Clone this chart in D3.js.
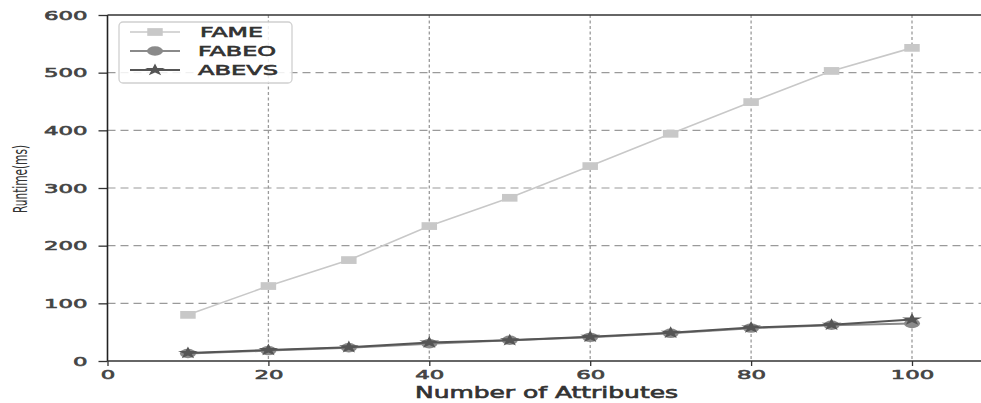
<!DOCTYPE html>
<html>
<head>
<meta charset="utf-8">
<script src="https://cdn.jsdelivr.net/npm/d3@7"></script>
<style>
  body { margin: 0; background: #fff; }
  text { font-family: "DejaVu Sans", sans-serif; }
</style>
</head>
<body>
<svg id="chart" width="981" height="403"></svg>
<script>
const attributes = [10, 20, 30, 40, 50, 60, 70, 80, 90, 100];
const fame  = [80, 130, 175, 234, 283, 338, 394, 449, 503, 543];
const fabeo = [13, 18, 23, 30, 36, 41, 48, 57, 62, 65];
const abevs = [14, 19, 24, 32, 36, 42, 49, 58, 63, 72];
const xTicks = [0, 20, 40, 60, 80, 100];
const yTicks = [0, 100, 200, 300, 400, 500, 600];

// the original picture is stretched horizontally, so markers and text are too
const series = [
  { name: "FAME",  values: fame,  color: "#c8c8c8", symbol: d3.symbolSquare, size: 60, sx: 2.0, sy: 1.0, lw: 1.6 },
  { name: "FABEO", values: fabeo, color: "#8a8a8a", symbol: d3.symbolCircle, size: 70, sx: 1.7, sy: 1.0, lw: 2 },
  { name: "ABEVS", values: abevs, color: "#555555", symbol: d3.symbolStar,   size: 48, sx: 1.6, sy: 1.0, lw: 2 }
];

const svg = d3.select("#chart");
const W = 981;

const x = d3.scaleLinear().domain([0, 100]).range([107.5, 912]);
const y = d3.scaleLinear().domain([0, 600]).range([361, 15]);

// grid
const grid = svg.append("g");
grid.selectAll("line.v").data(xTicks.slice(1)).enter().append("line")
  .attr("x1", d => x(d)).attr("x2", d => x(d))
  .attr("y1", y(600)).attr("y2", y(0))
  .attr("stroke", "#9a9a9a").attr("stroke-width", 1.3).attr("stroke-dasharray", "3,2.5");
grid.selectAll("line.h").data(yTicks.slice(1, -1)).enter().append("line")
  .attr("x1", x(0)).attr("x2", W)
  .attr("y1", d => y(d)).attr("y2", d => y(d))
  .attr("stroke", "#9a9a9a").attr("stroke-width", 1.2).attr("stroke-dasharray", "8,5");

// axes
const xAxis = svg.append("g")
  .attr("transform", "translate(0," + y(0) + ")")
  .call(d3.axisBottom(x).tickValues(xTicks).tickSize(5).tickPadding(4));
const yAxis = svg.append("g")
  .attr("transform", "translate(" + x(0) + ",0)")
  .call(d3.axisLeft(y).tickValues(yTicks).tickSize(9).tickPadding(11));
[xAxis, yAxis].forEach(a => {
  a.select(".domain").remove();
  a.selectAll("line").attr("stroke", "#333").attr("stroke-width", 1.3);
  a.selectAll("text").attr("fill", "#444").style("font-size", "12.5px")
    .attr("stroke", "#444").attr("stroke-width", 0.6)
    .attr("textLength", d => String(d).length * 14.5)
    .attr("lengthAdjust", "spacingAndGlyphs");
});

// frame lines
svg.append("line").attr("x1", x(0)).attr("x2", x(0)).attr("y1", y(600)).attr("y2", y(0))
  .attr("stroke", "#222").attr("stroke-width", 1.6);
svg.append("line").attr("x1", x(0)).attr("x2", W).attr("y1", y(0)).attr("y2", y(0))
  .attr("stroke", "#333").attr("stroke-width", 1.6);
svg.append("line").attr("x1", x(0)).attr("x2", W).attr("y1", y(600)).attr("y2", y(600))
  .attr("stroke", "#333").attr("stroke-width", 1.4);

// lines and markers
const line = d3.line().x((d, i) => x(attributes[i])).y(d => y(d));
series.forEach(s => {
  svg.append("path").datum(s.values)
    .attr("d", line).attr("fill", "none")
    .attr("stroke", s.color).attr("stroke-width", s.lw);
  svg.append("g").selectAll("path").data(s.values).enter().append("path")
    .attr("d", d3.symbol().type(s.symbol).size(s.size))
    .attr("transform", (d, i) => "translate(" + x(attributes[i]) + "," + y(d) + ") scale(" + s.sx + "," + s.sy + ")")
    .attr("fill", s.color);
});

// legend
const lg = svg.append("g").attr("transform", "translate(119,22)");
lg.append("rect").attr("width", 173).attr("height", 61).attr("rx", 4)
  .attr("fill", "#fff").attr("fill-opacity", 0.85)
  .attr("stroke", "#d0d0d0").attr("stroke-width", 1.3);
const legendWidths = [63, 78, 80];
series.forEach((s, i) => {
  const cy = 10 + i * 19;
  lg.append("line").attr("x1", 11).attr("x2", 61).attr("y1", cy).attr("y2", cy)
    .attr("stroke", s.color).attr("stroke-width", s.lw);
  lg.append("path").attr("d", d3.symbol().type(s.symbol).size(s.size))
    .attr("transform", "translate(36," + cy + ") scale(" + s.sx + "," + s.sy + ")")
    .attr("fill", s.color);
  lg.append("text").attr("x", i === 0 ? 81 : 79).attr("y", cy + 5)
    .attr("fill", "#333").attr("stroke", "#333").attr("stroke-width", 0.6)
    .style("font-size", "13.5px")
    .attr("textLength", legendWidths[i]).attr("lengthAdjust", "spacingAndGlyphs")
    .text(s.name);
});

// axis labels
svg.append("text").attr("x", 415).attr("y", 398)
  .attr("fill", "#333").attr("stroke", "#333").attr("stroke-width", 0.6)
  .style("font-size", "15px")
  .attr("textLength", 263).attr("lengthAdjust", "spacingAndGlyphs")
  .text("Number of Attributes");
svg.append("text").attr("transform", "translate(27,213) rotate(-90)")
  .attr("fill", "#333")
  .style("font-size", "19px").style("font-family", "'Liberation Sans Narrow', 'DejaVu Sans Condensed', sans-serif")
  .attr("textLength", 68).attr("lengthAdjust", "spacingAndGlyphs")
  .text("Runtime(ms)");
</script>
</body>
</html>
